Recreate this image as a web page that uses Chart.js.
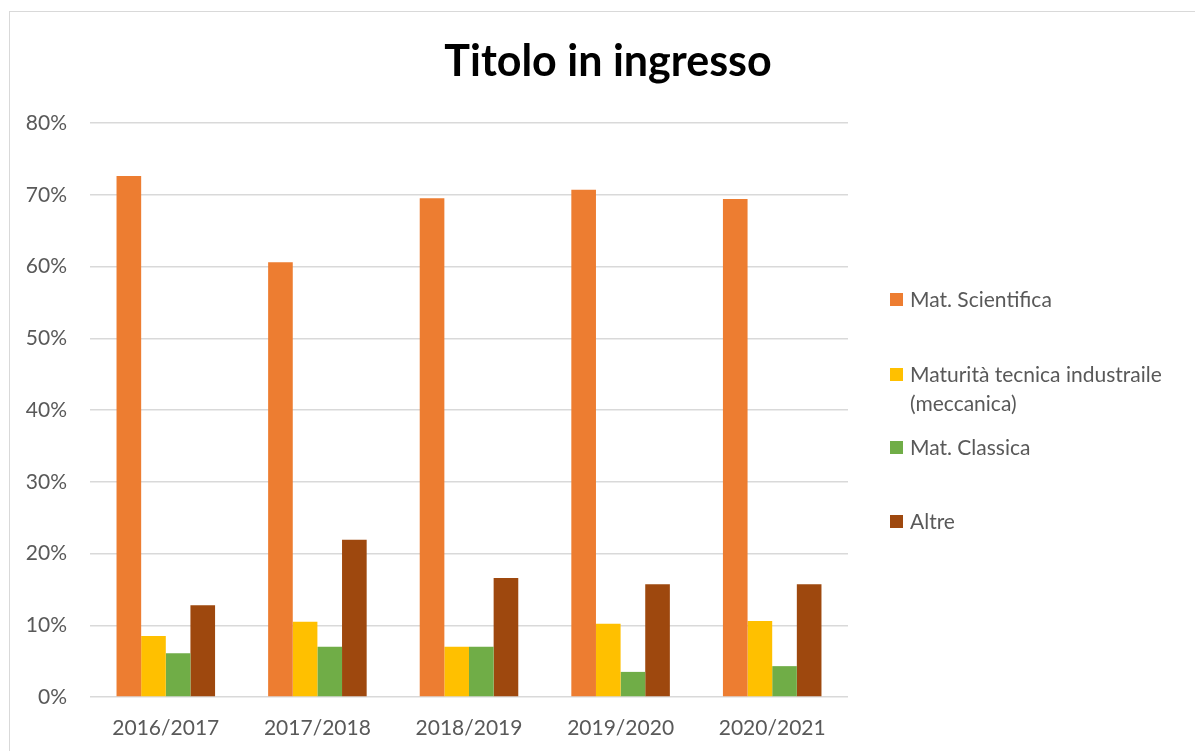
<!DOCTYPE html>
<html>
<head>
<meta charset="utf-8">
<script src="https://cdn.jsdelivr.net/npm/chart.js@4"></script>
<style>
  html, body { margin: 0; padding: 0; background: #fff; overflow: hidden; }
  #wrap { position: relative; width: 1195px; height: 751px; }
  #frame { position: absolute; left: 9px; top: 11px; width: 1300px; height: 900px; border: 1px solid #d9d9d9; box-sizing: border-box; }
  canvas { position: absolute; left: 0; top: 0; }
</style>
</head>
<body>
<div id="wrap">
  <div id="frame"></div>
  <canvas id="myChart" width="1195" height="751"></canvas>
</div>
<script>
// years on the x axis
const years = ['2016/2017', '2017/2018', '2018/2019', '2019/2020', '2020/2021'];

// share of enrolled students per entry diploma, in %
const scientifica = [72.6, 60.6, 69.5, 70.7, 69.4];
const tecnica = [8.5, 10.5, 7.0, 10.2, 10.6];
const classica = [6.1, 7.0, 7.0, 3.5, 4.3];
const altre = [12.8, 21.9, 16.6, 15.7, 15.7];

const seriesNames = ['Mat. Scientifica', ['Maturità tecnica industraile', '(meccanica)'], 'Mat. Classica', 'Altre'];
const seriesColors = ['#ED7D31', '#FFC000', '#70AD47', '#9E480E'];
const yTicks = [0, 10, 20, 30, 40, 50, 60, 70, 80];

const FONT = 'Lato, "Open Sans", sans-serif';

// title + right-hand legend, drawn by hand to keep the excel-like spacing
const decorations = {
  id: 'decorations',
  afterDraw(chart) {
    const ctx = chart.ctx;
    ctx.save();
    ctx.fillStyle = '#000';
    ctx.font = 'bold 43px ' + FONT;
    ctx.textAlign = 'center';
    ctx.textBaseline = 'alphabetic';
    ctx.fillText('Titolo in ingresso', 608, 76);

    const rows = [300, 375, 448, 522];
    ctx.font = '21px ' + FONT;
    ctx.textAlign = 'left';
    ctx.textBaseline = 'middle';
    chart.data.datasets.forEach((ds, i) => {
      const y = rows[i];
      ctx.fillStyle = ds.backgroundColor;
      ctx.fillRect(890, y - 7, 13, 13);
      ctx.fillStyle = '#595959';
      const lines = Array.isArray(ds.label) ? ds.label : [ds.label];
      lines.forEach((t, j) => ctx.fillText(t, 910, y + j * 29));
    });
    ctx.restore();
  }
};

const ctx = document.getElementById('myChart').getContext('2d');
const allSeries = [scientifica, tecnica, classica, altre];

new Chart(ctx, {
  type: 'bar',
  data: {
    labels: years,
    datasets: allSeries.map((vals, i) => ({
      label: seriesNames[i],
      data: vals,
      backgroundColor: seriesColors[i],
      borderWidth: 0,
      categoryPercentage: 0.65,
      barPercentage: 1
    }))
  },
  options: {
    responsive: false,
    animation: false,
    layout: { padding: { left: 10, right: 347, top: 123, bottom: 0 } },
    plugins: {
      legend: { display: false },
      title: { display: false },
      tooltip: { enabled: false }
    },
    scales: {
      x: {
        grid: { display: false, drawTicks: false },
        border: { display: false },
        ticks: { color: '#595959', font: { family: FONT, size: 21 }, padding: 19, maxRotation: 0 },
        afterFit: s => { s.height = 54; }
      },
      y: {
        min: 0,
        max: 80,
        afterBuildTicks: s => { s.ticks = yTicks.map(v => ({ value: v })); },
        grid: { color: '#d9d9d9', lineWidth: 1.5, drawTicks: false },
        border: { display: false },
        ticks: {
          color: '#595959',
          font: { family: FONT, size: 21 },
          padding: 23,
          callback: v => v + '%'
        },
        afterFit: s => { s.width = 80; }
      }
    }
  },
  plugins: [decorations]
});
</script>
</body>
</html>
